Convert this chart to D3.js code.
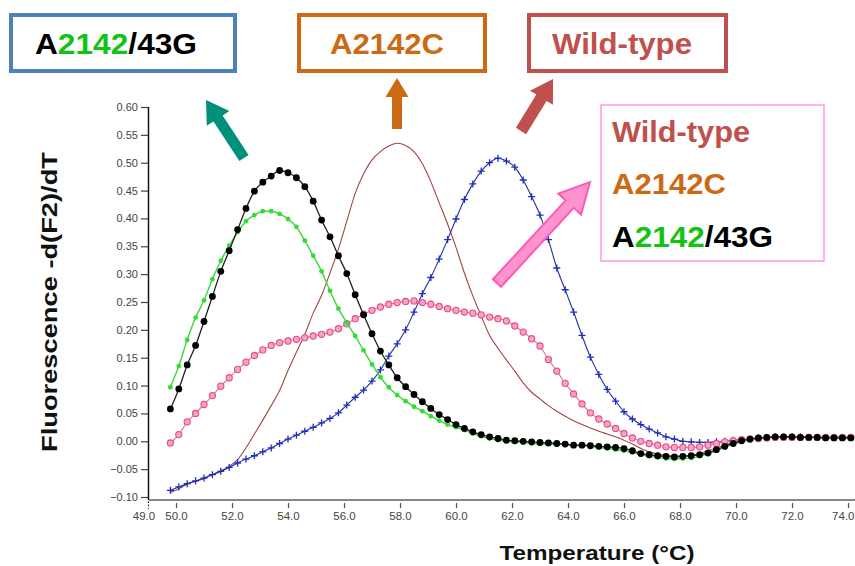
<!DOCTYPE html>
<html>
<head>
<meta charset="utf-8">
<script src="https://cdn.jsdelivr.net/npm/d3@7"></script>
<style>
  html, body { margin: 0; padding: 0; background: #fff; }
  svg { display: block; }
  text { font-family: "Liberation Sans", Arial, sans-serif; }
</style>
</head>
<body>
<svg id="chart" width="855" height="566"></svg>
<script>
// Melting-curve derivative data: temperature (°C) and -d(F2)/dT for each sample
const temps = [
  49.8, 50.1, 50.4, 50.7, 51.0, 51.3, 51.6, 51.9, 52.2, 52.5,
  52.8, 53.1, 53.4, 53.7, 54.0, 54.3, 54.6, 54.9, 55.2, 55.5,
  55.8, 56.1, 56.4, 56.7, 57.0, 57.3, 57.6, 57.9, 58.2, 58.5,
  58.8, 59.1, 59.4, 59.7, 60.0, 60.3, 60.6, 60.9, 61.2, 61.5,
  61.8, 62.1, 62.4, 62.7, 63.0, 63.3, 63.6, 63.9, 64.2, 64.5,
  64.8, 65.1, 65.4, 65.7, 66.0, 66.3, 66.6, 66.9, 67.2, 67.5,
  67.8, 68.1, 68.4, 68.7, 69.0, 69.3, 69.6, 69.9, 70.2, 70.5,
  70.8, 71.1, 71.4, 71.7, 72.0, 72.3, 72.6, 72.9, 73.2, 73.5,
  73.8, 74.1
];

// A2142/43G, replicate 1 (black)
const doubleMutantA = [
  0.058, 0.094, 0.137, 0.172, 0.215, 0.260, 0.305, 0.342, 0.380, 0.418,
  0.449, 0.465, 0.476, 0.486, 0.482, 0.473, 0.457, 0.431, 0.397, 0.367,
  0.333, 0.301, 0.263, 0.227, 0.193, 0.162, 0.137, 0.114, 0.098, 0.084,
  0.071, 0.059, 0.048, 0.039, 0.030, 0.023, 0.017, 0.012, 0.008, 0.005,
  0.002, 0.001, 0.000, -0.001, -0.002, -0.003, -0.004, -0.005, -0.007, -0.007,
  -0.008, -0.009, -0.010, -0.011, -0.013, -0.017, -0.022, -0.024, -0.026, -0.027,
  -0.028, -0.027, -0.026, -0.024, -0.021, -0.015, -0.009, -0.004, 0.001, 0.004,
  0.006, 0.007, 0.008, 0.008, 0.008, 0.007, 0.007, 0.007, 0.006, 0.006,
  0.006, 0.006
];

// A2142/43G, replicate 2 (green)
const doubleMutantB = [
  0.097, 0.135, 0.182, 0.222, 0.253, 0.291, 0.324, 0.351, 0.375, 0.395,
  0.406, 0.413, 0.413, 0.408, 0.399, 0.385, 0.360, 0.333, 0.305, 0.270,
  0.238, 0.213, 0.189, 0.163, 0.138, 0.115, 0.097, 0.083, 0.072, 0.062,
  0.054, 0.045, 0.037, 0.030, 0.025, 0.020, 0.014, 0.009, 0.005, 0.002,
  0.000, -0.001, -0.002, -0.004, -0.005, -0.005, -0.006, -0.006, -0.007, -0.008,
  -0.009, -0.011, -0.013, -0.015, -0.017, -0.020, -0.024, -0.027, -0.029, -0.031,
  -0.032, -0.031, -0.030, -0.027, -0.022, -0.017, -0.011, -0.005, -0.001, 0.002,
  0.004, 0.006, 0.007, 0.007, 0.007, 0.007, 0.007, 0.006, 0.006, 0.006,
  0.006, 0.006
];

// Mixed sample (pink)
const mixedSample = [
  -0.003, 0.012, 0.035, 0.050, 0.066, 0.082, 0.099, 0.114, 0.129, 0.142,
  0.154, 0.164, 0.172, 0.177, 0.180, 0.183, 0.186, 0.189, 0.192, 0.196,
  0.202, 0.211, 0.220, 0.228, 0.235, 0.241, 0.246, 0.249, 0.251, 0.252,
  0.249, 0.246, 0.242, 0.238, 0.235, 0.232, 0.230, 0.227, 0.223, 0.220,
  0.216, 0.207, 0.196, 0.184, 0.171, 0.147, 0.126, 0.104, 0.085, 0.067,
  0.051, 0.040, 0.031, 0.023, 0.014, 0.006, 0.000, -0.004, -0.007, -0.010,
  -0.011, -0.011, -0.011, -0.010, -0.007, -0.004, -0.001, 0.001, 0.003, 0.004,
  0.005, 0.006, 0.007, 0.007, 0.007, 0.007, 0.007, 0.007, 0.007, 0.007,
  0.007, 0.007
];

// A2142C (brown, line only)
const a2142C = [
  -0.092, -0.085, -0.077, -0.072, -0.067, -0.060, -0.053, -0.045, -0.033, -0.012,
  0.013, 0.038, 0.064, 0.091, 0.127, 0.160, 0.192, 0.230, 0.262, 0.302,
  0.345, 0.395, 0.445, 0.480, 0.505, 0.520, 0.530, 0.535, 0.531, 0.520,
  0.498, 0.466, 0.428, 0.390, 0.348, 0.302, 0.261, 0.225, 0.190, 0.167,
  0.146, 0.126, 0.105, 0.088, 0.076, 0.064, 0.054, 0.045, 0.037, 0.030,
  0.024, 0.018, 0.013, 0.008, 0.002, -0.005, -0.013, -0.019, -0.023, -0.025,
  -0.026, -0.026, -0.025, -0.022, -0.017, -0.012, -0.007, -0.002, 0.002, 0.004,
  0.006, 0.007, 0.007, 0.007, 0.007, 0.007, 0.007, 0.007, 0.007, 0.007,
  0.007, 0.007
];

// Wild-type (blue, + markers)
const wildType = [
  -0.088, -0.082, -0.076, -0.071, -0.066, -0.060, -0.054, -0.047, -0.039, -0.032,
  -0.026, -0.019, -0.012, -0.004, 0.004, 0.011, 0.018, 0.025, 0.033, 0.041,
  0.051, 0.065, 0.079, 0.092, 0.108, 0.128, 0.153, 0.175, 0.200, 0.232,
  0.265, 0.294, 0.327, 0.362, 0.399, 0.434, 0.462, 0.485, 0.500, 0.508,
  0.503, 0.492, 0.469, 0.439, 0.406, 0.362, 0.311, 0.272, 0.232, 0.190,
  0.151, 0.120, 0.093, 0.072, 0.053, 0.040, 0.030, 0.022, 0.015, 0.008,
  0.004, 0.000, -0.001, -0.002, -0.002, -0.001, 0.000, 0.002, 0.003, 0.004,
  0.006, 0.007, 0.008, 0.008, 0.008, 0.008, 0.007, 0.007, 0.007, 0.007,
  0.007, 0.007
];

const xTicks = [50, 52, 54, 56, 58, 60, 62, 64, 66, 68, 70, 72, 74];
const yTicks = [-0.10, -0.05, 0.00, 0.05, 0.10, 0.15, 0.20, 0.25, 0.30, 0.35, 0.40, 0.45, 0.50, 0.55, 0.60];

const svg = d3.select("#chart");
const W = 855;
const x = d3.scaleLinear().domain([49, 74]).range([148, 848]);
const y = d3.scaleLinear().domain([-0.10, 0.60]).range([497, 107]);

// ---- axes ----
const yAxis = svg.append("g").attr("transform", "translate(148,0)")
  .call(d3.axisLeft(y).tickValues(yTicks).tickFormat(d3.format(".2f")).tickSize(7).tickPadding(3));
yAxis.select(".domain").remove();
yAxis.selectAll(".tick line").attr("stroke", "#444").attr("stroke-width", 1.2);
yAxis.selectAll(".tick text").attr("fill", "#444").style("font-size", "11px")
  .style("font-family", "'Liberation Sans', Arial, sans-serif");
svg.append("line").attr("x1", 148.5).attr("x2", 148.5).attr("y1", y(0.60)).attr("y2", 500)
  .attr("stroke", "#111").attr("stroke-width", 1.5);

const xAxis = svg.append("g").attr("transform", "translate(0,501)")
  .call(d3.axisBottom(x).tickValues(xTicks).tickFormat(d3.format(".1f")).tickSize(7).tickPadding(4));
xAxis.select(".domain").remove();
xAxis.selectAll(".tick line").attr("stroke", "#555").attr("stroke-width", 1.2).attr("y1", 2);
xAxis.selectAll(".tick text").attr("fill", "#444").style("font-size", "11.5px")
  .style("font-family", "'Liberation Sans', Arial, sans-serif");
// keep the last label inside the page edge
xAxis.selectAll(".tick").filter(d => d === 74).select("text")
  .attr("text-anchor", "end").attr("x", W - 1 - x(74));
svg.append("line").attr("x1", 149).attr("x2", W).attr("y1", 500).attr("y2", 500)
  .attr("stroke", "#888").attr("stroke-width", 2);
// origin label and dashed origin tick
svg.append("text").attr("x", x(49) - 4).attr("y", 520).attr("text-anchor", "middle")
  .attr("fill", "#444").style("font-size", "11.5px").text("49.0");
svg.append("line").attr("x1", 148.5).attr("x2", 148.5).attr("y1", 501).attr("y2", 509)
  .attr("stroke", "#444").attr("stroke-width", 1.2).attr("stroke-dasharray", "2,1.5");

// axis titles
svg.append("text")
  .attr("transform", `translate(57,${(y(0.60) + y(-0.10)) / 2}) rotate(-90)`)
  .attr("text-anchor", "middle").attr("font-weight", "bold").style("font-size", "22px")
  .attr("fill", "#111").attr("textLength", 300).attr("lengthAdjust", "spacingAndGlyphs")
  .text("Fluorescence -d(F2)/dT");
svg.append("text").attr("x", 597).attr("y", 560).attr("text-anchor", "middle")
  .attr("font-weight", "bold").style("font-size", "21px").attr("fill", "#111")
  .attr("textLength", 195).attr("lengthAdjust", "spacingAndGlyphs")
  .text("Temperature (°C)");

// ---- curves ----
const series = [
  { values: a2142C,        line: "#A0463E", width: 1.1, marker: null },
  { values: wildType,      line: "#24309A", width: 1.1, marker: "plus",  color: "#1B2EC0" },
  { values: mixedSample,   line: "#E4779F", width: 1.2, marker: "ring",  color: "#E64C88" },
  { values: doubleMutantB, line: "#3CD83C", width: 1.4, marker: "dot",   color: "#35DC35", r: 2.4 },
  { values: doubleMutantA, line: "#222",    width: 1.3, marker: "dot",   color: "#000",    r: 3.4 }
];

const lineGen = d3.line().x(d => x(d[0])).y(d => y(d[1])).curve(d3.curveMonotoneX);

series.forEach(s => {
  const pts = temps.map((t, i) => [t, s.values[i]]);
  svg.append("path").datum(pts).attr("d", lineGen)
    .attr("fill", "none").attr("stroke", s.line).attr("stroke-width", s.width);
  const g = svg.append("g");
  if (s.marker === "dot") {
    g.selectAll("circle").data(pts).join("circle")
      .attr("cx", d => x(d[0])).attr("cy", d => y(d[1])).attr("r", s.r).attr("fill", s.color);
  } else if (s.marker === "ring") {
    g.selectAll("circle").data(pts).join("circle")
      .attr("cx", d => x(d[0])).attr("cy", d => y(d[1])).attr("r", 3.1)
      .attr("fill", "#F5A3C4").attr("stroke", s.color).attr("stroke-width", 1.1);
  } else if (s.marker === "plus") {
    g.selectAll("path").data(pts).join("path")
      .attr("d", d => {
        const cx = x(d[0]), cy = y(d[1]);
        return `M${cx - 3.5},${cy}H${cx + 3.5}M${cx},${cy - 3.5}V${cy + 3.5}`;
      })
      .attr("stroke", s.color).attr("stroke-width", 1.3).attr("fill", "none");
  }
});

// ---- annotation boxes ----
function labelText(sel, parts) {
  parts.forEach(([txt, col]) => sel.append("tspan").attr("fill", col).text(txt));
}
const GREEN = "#13C313", ORANGE = "#CC6A14", RED = "#C0504D", BLUE = "#4F81BD";

const boxes = [
  { x: 11,  w: 224, stroke: BLUE,   tx: 35,  tw: 162, parts: [["A", "#000"], ["2142", GREEN], ["/43G", "#000"]] },
  { x: 299, w: 186, stroke: ORANGE, tx: 330, tw: 114, parts: [["A2142C", ORANGE]] },
  { x: 529, w: 197, stroke: RED,    tx: 552, tw: 140, parts: [["Wild-type", RED]] }
];
boxes.forEach(b => {
  svg.append("rect").attr("x", b.x).attr("y", 15).attr("width", b.w).attr("height", 56)
    .attr("fill", "#fff").attr("stroke", b.stroke).attr("stroke-width", 4);
  const t = svg.append("text").attr("x", b.tx).attr("y", 54).attr("font-weight", "bold")
    .style("font-size", "29px").attr("textLength", b.tw).attr("lengthAdjust", "spacingAndGlyphs");
  labelText(t, b.parts);
});

// legend box
svg.append("rect").attr("x", 601).attr("y", 105).attr("width", 223).attr("height", 156)
  .attr("fill", "#fff").attr("stroke", "#FF99DD").attr("stroke-width", 1.5);
const legendRows = [
  { yb: 142, tw: 138, parts: [["Wild-type", RED]] },
  { yb: 194, tw: 114, parts: [["A2142C", ORANGE]] },
  { yb: 247, tw: 161, parts: [["A", "#000"], ["2142", GREEN], ["/43G", "#000"]] }
];
legendRows.forEach(r => {
  const t = svg.append("text").attr("x", 612).attr("y", r.yb).attr("font-weight", "bold")
    .style("font-size", "29px").attr("textLength", r.tw).attr("lengthAdjust", "spacingAndGlyphs");
  labelText(t, r.parts);
});

// ---- block arrows ----
function blockArrow(tail, tip, shaftW, headW, headL) {
  const dx = tip[0] - tail[0], dy = tip[1] - tail[1];
  const len = Math.hypot(dx, dy);
  const ux = dx / len, uy = dy / len, nx = -uy, ny = ux;
  const bx = tip[0] - ux * headL, by = tip[1] - uy * headL;
  const p = [
    [tail[0] + nx * shaftW / 2, tail[1] + ny * shaftW / 2],
    [bx + nx * shaftW / 2, by + ny * shaftW / 2],
    [bx + nx * headW / 2, by + ny * headW / 2],
    tip,
    [bx - nx * headW / 2, by - ny * headW / 2],
    [bx - nx * shaftW / 2, by - ny * shaftW / 2],
    [tail[0] - nx * shaftW / 2, tail[1] - ny * shaftW / 2]
  ];
  return "M" + p.map(q => q.join(",")).join("L") + "Z";
}
svg.append("path").attr("d", blockArrow([244, 158], [206, 100], 11, 27, 22)).attr("fill", "#00907C");
svg.append("path").attr("d", blockArrow([397, 129], [397, 78], 10, 23, 19)).attr("fill", ORANGE);
svg.append("path").attr("d", blockArrow([521, 131], [553, 79], 12, 27, 22)).attr("fill", RED);
svg.append("path").attr("d", blockArrow([497, 283], [590, 182], 11, 31, 30))
  .attr("fill", "#FF93CF").attr("stroke", "#FF5AB6").attr("stroke-width", 2);
</script>
</body>
</html>
